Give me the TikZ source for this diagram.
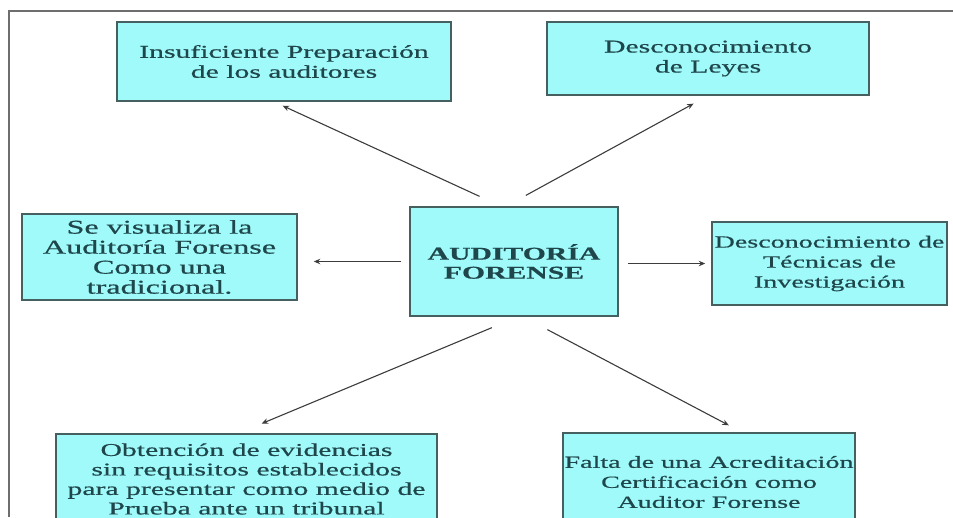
\documentclass[tikz,border=0pt]{standalone}
\usepackage{fontspec}
\setmainfont{Liberation Serif}[FakeStretch=1.65, FakeBold=0.6]
\usetikzlibrary{arrows.meta}
\definecolor{fondoCaja}{RGB}{160,250,250}
\definecolor{bordeCaja}{RGB}{70,95,95}
\definecolor{textoCaja}{RGB}{30,70,75}
\definecolor{grisFlecha}{RGB}{60,60,60}
\definecolor{grisMarco}{RGB}{110,110,110}
\tikzset{
  caja/.style={draw=bordeCaja, fill=fondoCaja, line width=1.5pt, inner sep=0pt, align=center, text=textoCaja},
  flecha/.style={-{Stealth[length=6.5pt,width=5.5pt]}, line width=1.1pt, grisFlecha},
  marco/.style={line width=1.2pt, grisMarco},
}
\newcommand{\letra}[1]{\fontsize{#1}{20}\selectfont}

\begin{document}
\begin{tikzpicture}[x=1pt, y=-1pt]
  \useasboundingbox (0,0) rectangle (953,517);
  \clip (0,0) rectangle (953,517);
  % Marco
  \draw[marco] (953,11) -- (9,11) -- (9,517);
  % Cajas
  \node[caja, minimum width=334pt, minimum height=79pt, font=\letra{18}] (insuf) at (284,61.5)
    {Insuficiente Preparación\\de los auditores};
  \node[caja, minimum width=322pt, minimum height=73pt, font=\letra{18}] (leyes) at (708,58.5)
    {Desconocimiento\\de Leyes};
  \node[caja, minimum width=275pt, minimum height=86pt, font=\letra{19.5}] (visual) at (159.5,257)
    {Se visualiza la\\Auditoría Forense\\Como una\\tradicional.};
  \node[caja, minimum width=208pt, minimum height=109pt, font=\bfseries\fontsize{18}{19}\selectfont] (aud) at (514,261.5)
    {AUDITORÍA\\FORENSE};
  \node[caja, minimum width=235pt, minimum height=83pt, font=\letra{17}] (tecnicas) at (829.5,263.5)
    {Desconocimiento de\\Técnicas de\\Investigación};
  \node[caja, minimum width=381pt, minimum height=90pt, font=\fontsize{18}{19.5}\selectfont] (evid) at (246.5,479)
    {Obtención de evidencias\\sin requisitos establecidos\\para presentar como medio de\\Prueba ante un tribunal};
  \node[caja, minimum width=292pt, minimum height=98pt, font=\letra{17}] (acred) at (709,482)
    {Falta de una Acreditación\\Certificación como\\Auditor Forense};
  % Flechas
  \draw[flecha, shorten <=23.6pt, shorten >=9.5pt] ([xshift=-13pt]aud.north) -- ([xshift=-10pt]insuf.south);
  \draw[flecha, shorten <=22.6pt, shorten >=16.4pt] ([xshift=-8pt]aud.north) -- (leyes.south);
  \draw[flecha, shorten <=8pt, shorten >=16pt] (aud.west) -- (aud.west -| visual.east);
  \draw[flecha, shorten <=9pt, shorten >=6pt] (tecnicas.west -| aud.east) -- (tecnicas.west);
  \draw[flecha, shorten <=28.3pt, shorten >=25.1pt] ([xshift=4pt]aud.south) -- ([xshift=-8pt]evid.north);
  \draw[flecha, shorten <=27.6pt, shorten >=14.9pt] ([xshift=9pt]aud.south) -- ([xshift=33pt]acred.north);
\end{tikzpicture}
\end{document}
